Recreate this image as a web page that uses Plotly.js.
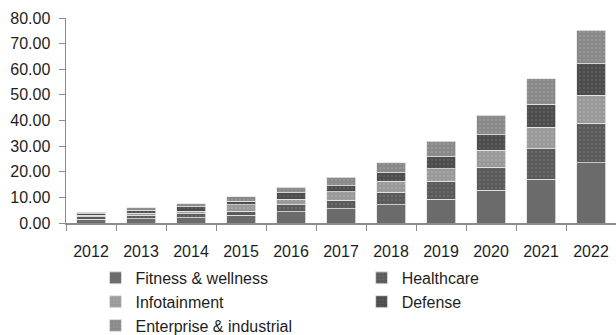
<!DOCTYPE html>
<html>
<head>
<meta charset="utf-8">
<script src="https://cdn.plot.ly/plotly-3.0.1.min.js"></script>
<style>html,body{margin:0;padding:0;background:#fff;}#chart{width:616px;height:335px;}</style>
</head>
<body>
<div id="chart"></div>
<script>
var years = ['2012','2013','2014','2015','2016','2017','2018','2019','2020','2021','2022'];
var fitness    = [1.4, 1.7, 2.0, 3.0, 4.3, 5.6, 7.2, 9.3, 12.7, 17.1, 23.5];
var healthcare = [1.0, 1.3, 1.7, 1.6, 2.8, 3.2, 4.8, 6.9, 9.0, 11.8, 15.5];
var infotain   = [0.6, 0.9, 0.9, 2.5, 2.2, 3.4, 4.3, 5.0, 6.7, 8.5, 10.9];
var defense    = [0.6, 1.1, 1.7, 1.3, 2.5, 2.3, 3.4, 4.7, 6.1, 9.0, 12.3];
var enterprise = [0.6, 1.0, 1.3, 1.9, 2.1, 3.4, 3.8, 6.0, 7.6, 9.9, 13.0];
var names = ['Fitness & wellness','Healthcare','Infotainment','Defense','Enterprise & industrial'];
var colors = ['#6b6b6b','#595959','#999999','#4c4c4c','#898989'];
var fg = [null,'#6a6a6a','#a6a6a6','#5c5c5c','#969696'];
var legendOf = ['legend','legend2','legend','legend2','legend'];
var series = [fitness, healthcare, infotain, defense, enterprise];

var traces = series.map(function(v,i){
  var m = {color: colors[i], line:{color:'#e6e6e6', width:0.8}};
  if (fg[i]) m.pattern = {shape:'.', fgcolor: fg[i], bgcolor: colors[i], size:4, solidity:0.3};
  return {type:'bar', name: names[i], x: years, y: v, marker: m, hoverinfo:'y', legend: legendOf[i]};
});

var legendBase = {orientation:'v', xanchor:'left', yref:'container', y:0.221, yanchor:'top',
  traceorder:'normal', font:{size:16, color:'#1e1e1e'}, bgcolor:'rgba(0,0,0,0)'};
var leg1 = Object.assign({}, legendBase, {x:0.0536});
var leg2 = Object.assign({}, legendBase, {x:0.5375});

var layout = {
  width:616, height:335,
  barmode:'stack', bargap:0.42,
  margin:{l:66, r:0, t:18, b:112},
  paper_bgcolor:'#fff', plot_bgcolor:'#fff',
  font:{family:'Liberation Sans, Arial, sans-serif', size:16, color:'#1e1e1e'},
  xaxis:{type:'category', showline:true, linecolor:'#8c8c8c', linewidth:1.5,
         ticks:'outside', tickson:'boundaries', ticklen:6, tickcolor:'#8c8c8c',
         showgrid:false, tickfont:{size:16}, automargin:false, ticklabelstandoff:13},
  yaxis:{range:[0,80], dtick:10, tickformat:'.2f', showline:true, linecolor:'#8c8c8c', linewidth:1.5,
         ticks:'outside', ticklen:6, tickcolor:'#8c8c8c', showgrid:false, zeroline:false,
         tickfont:{size:16}, automargin:false, ticklabelstandoff:5},
  legend: leg1,
  legend2: leg2,
  showlegend:true
};
Plotly.newPlot('chart', traces, layout, {displayModeBar:false, staticPlot:true});
</script>
</body>
</html>
